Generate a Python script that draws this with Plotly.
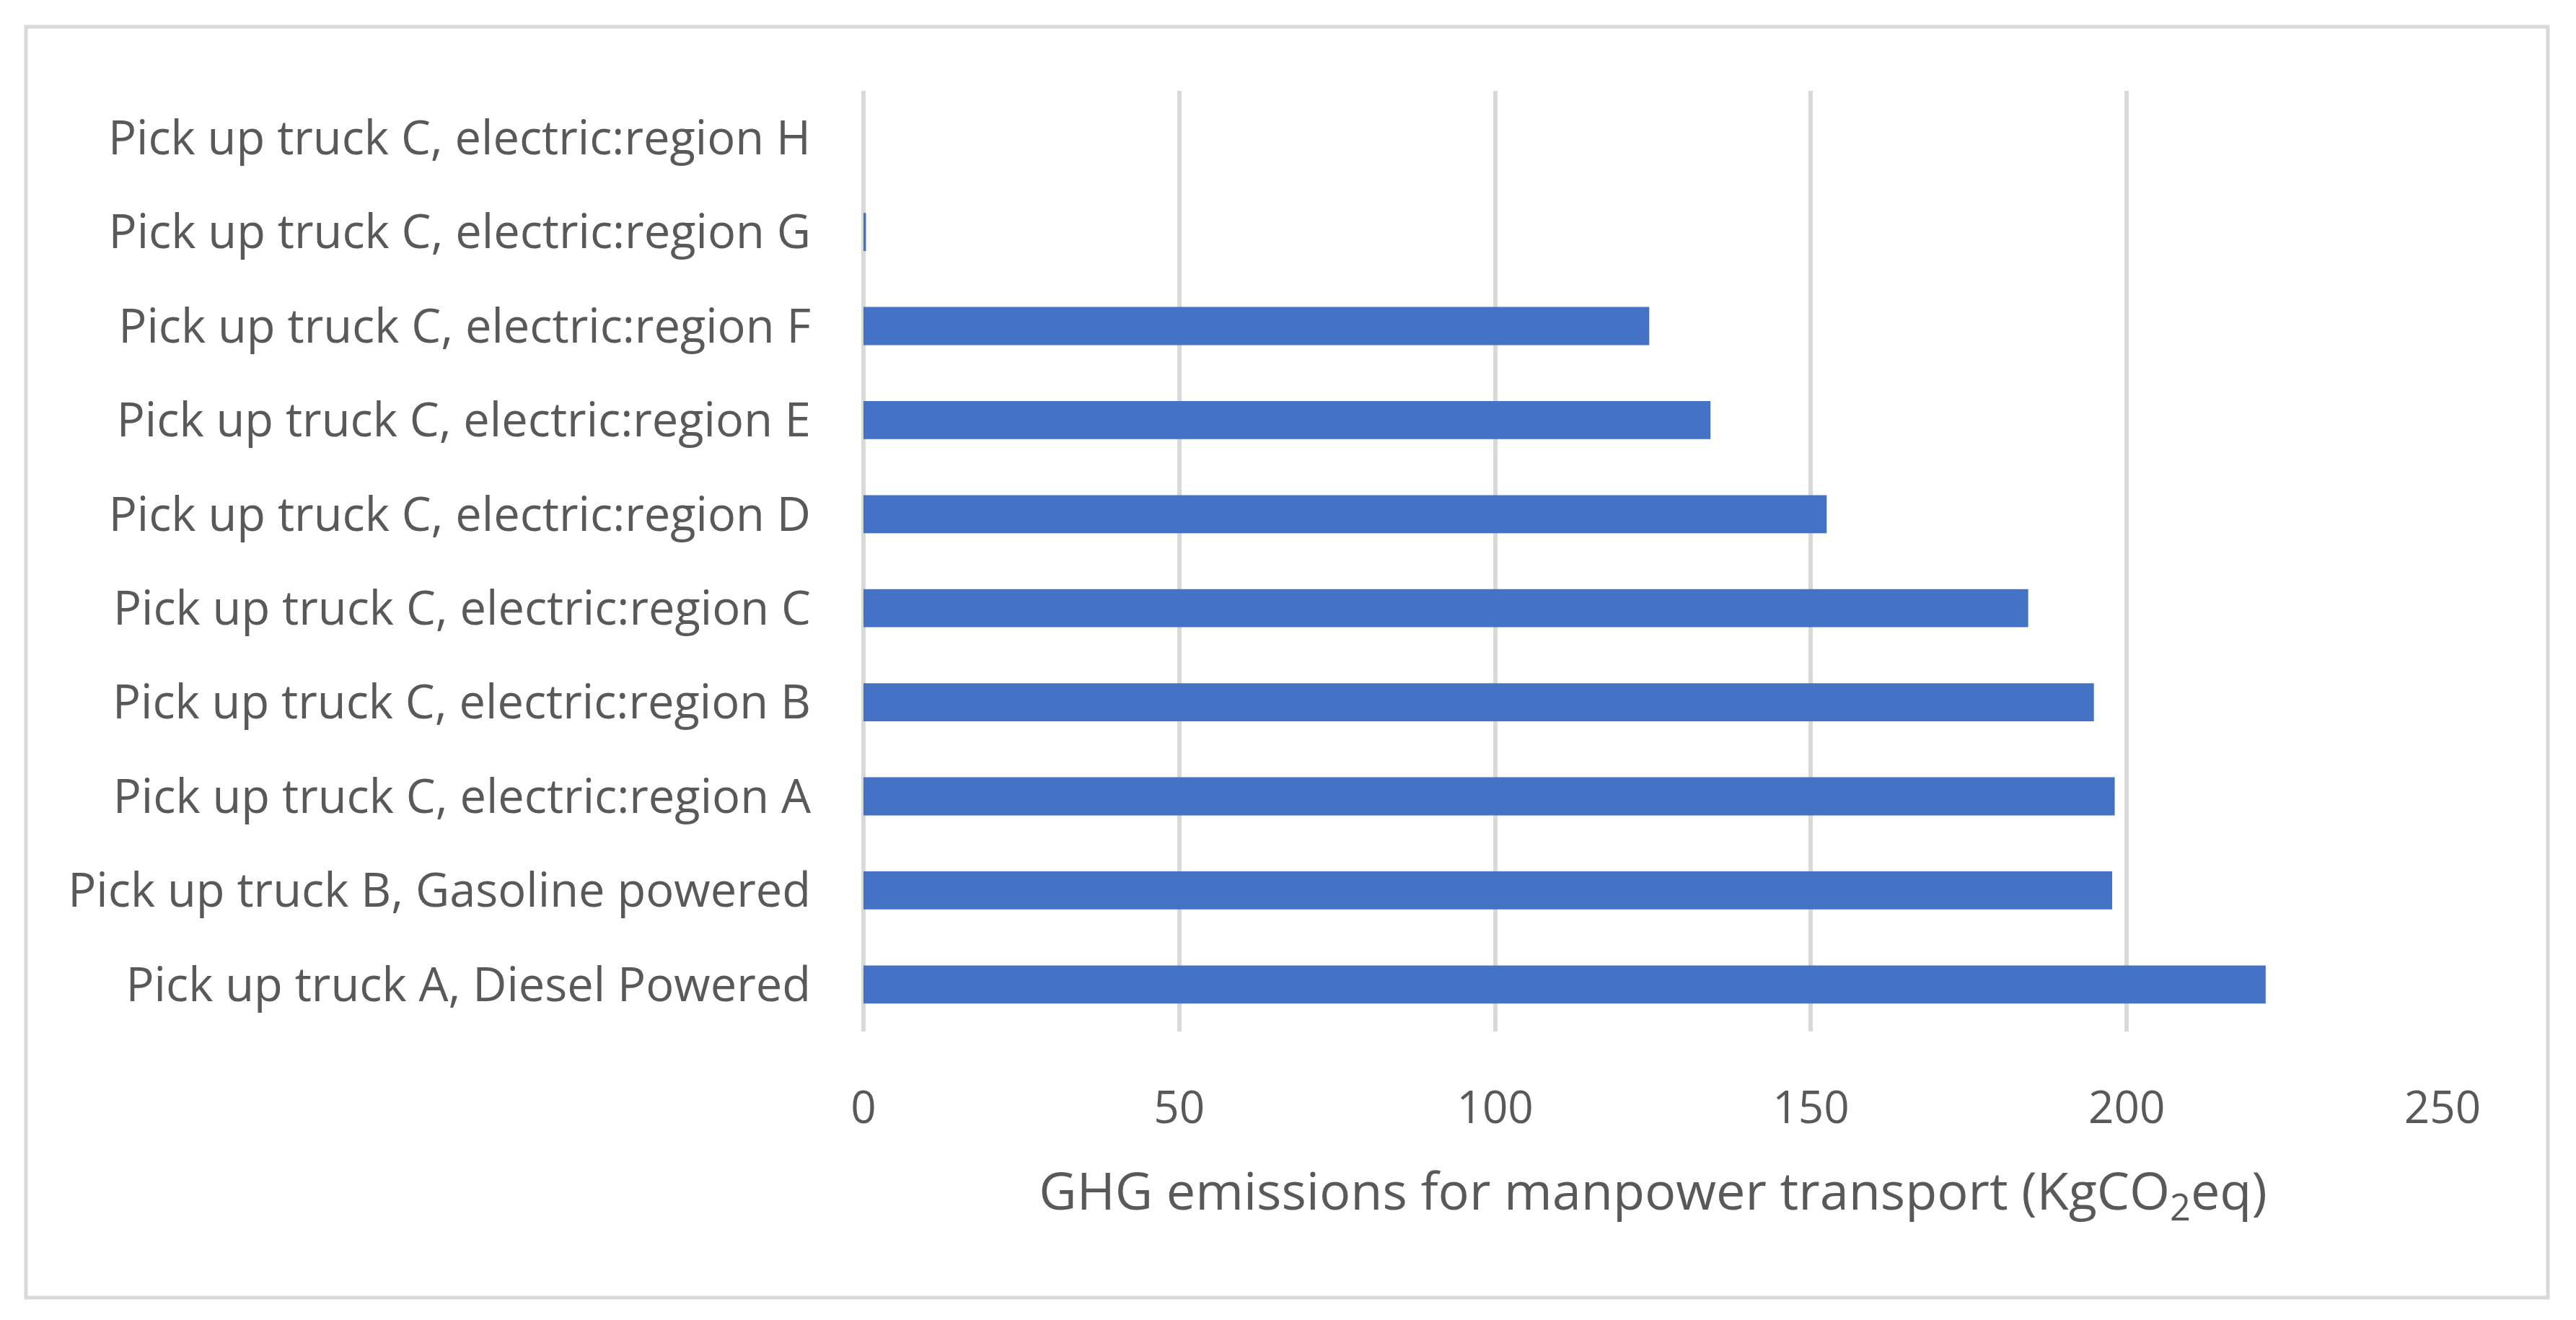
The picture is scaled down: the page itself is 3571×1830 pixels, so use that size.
import plotly.graph_objects as go

categories = [
    "Pick up truck A, Diesel Powered",
    "Pick up truck B, Gasoline powered",
    "Pick up truck C, electric:region A",
    "Pick up truck C, electric:region B",
    "Pick up truck C, electric:region C",
    "Pick up truck C, electric:region D",
    "Pick up truck C, electric:region E",
    "Pick up truck C, electric:region F",
    "Pick up truck C, electric:region G",
    "Pick up truck C, electric:region H",
]
values = [222.0, 197.7, 198.1, 194.8, 184.4, 152.5, 134.1, 124.4, 0.4, 0.0]
x_ticks = [0, 50, 100, 150, 200, 250]
x_title = "GHG emissions for manpower transport (KgCO<sub>2</sub>eq)"

OFF = 8  # default page body margin
W, H = 3571 - OFF, 1830 - OFF
L, R, T, B = 1197 - OFF, 3386 - OFF, 126 - OFF, 1430 - OFF
FONT = "Open Sans"
TXT = "#595959"
GRID = "#D9D9D9"

fig = go.Figure(go.Bar(
    x=values, y=categories, orientation="h",
    marker=dict(color="#4472C4", line=dict(width=0)),
))

fig.update_layout(
    width=W, height=H,
    margin=dict(l=L, r=W - R, t=T, b=H - B, pad=0),
    paper_bgcolor="white", plot_bgcolor="white",
    bargap=0.595,
    showlegend=False,
    font=dict(family=FONT, color=TXT),
)
fig.update_xaxes(
    range=[0, 250], tickvals=x_ticks, ticktext=[str(v) for v in x_ticks],
    showgrid=True, gridcolor=GRID, gridwidth=6,
    zeroline=True, zerolinecolor=GRID, zerolinewidth=6,
    showline=False, ticks="",
    tickfont=dict(family=FONT, size=62, color=TXT),
    ticklabelstandoff=64,
    title=dict(text=x_title, font=dict(family=FONT, size=72, color=TXT), standoff=52),
)
fig.update_yaxes(
    type="category", categoryorder="array", categoryarray=categories,
    range=[-0.5, len(categories) - 0.5],
    showgrid=False, showline=False, zeroline=False, ticks="",
    tickfont=dict(family=FONT, size=65, color=TXT),
    ticklabelstandoff=72,
)

# outer chart border (page pixel coordinates converted to paper fractions)
def px_to_paper_x(px):
    return (px - OFF - L) / (R - L)

def px_to_paper_y(py):
    return (B - (py - OFF)) / (B - T)

fig.add_shape(
    type="rect", xref="paper", yref="paper",
    x0=px_to_paper_x(36), x1=px_to_paper_x(3532),
    y0=px_to_paper_y(1799), y1=px_to_paper_y(37),
    line=dict(color=GRID, width=5), fillcolor="rgba(0,0,0,0)", layer="below",
)

fig.write_html("out.html")
